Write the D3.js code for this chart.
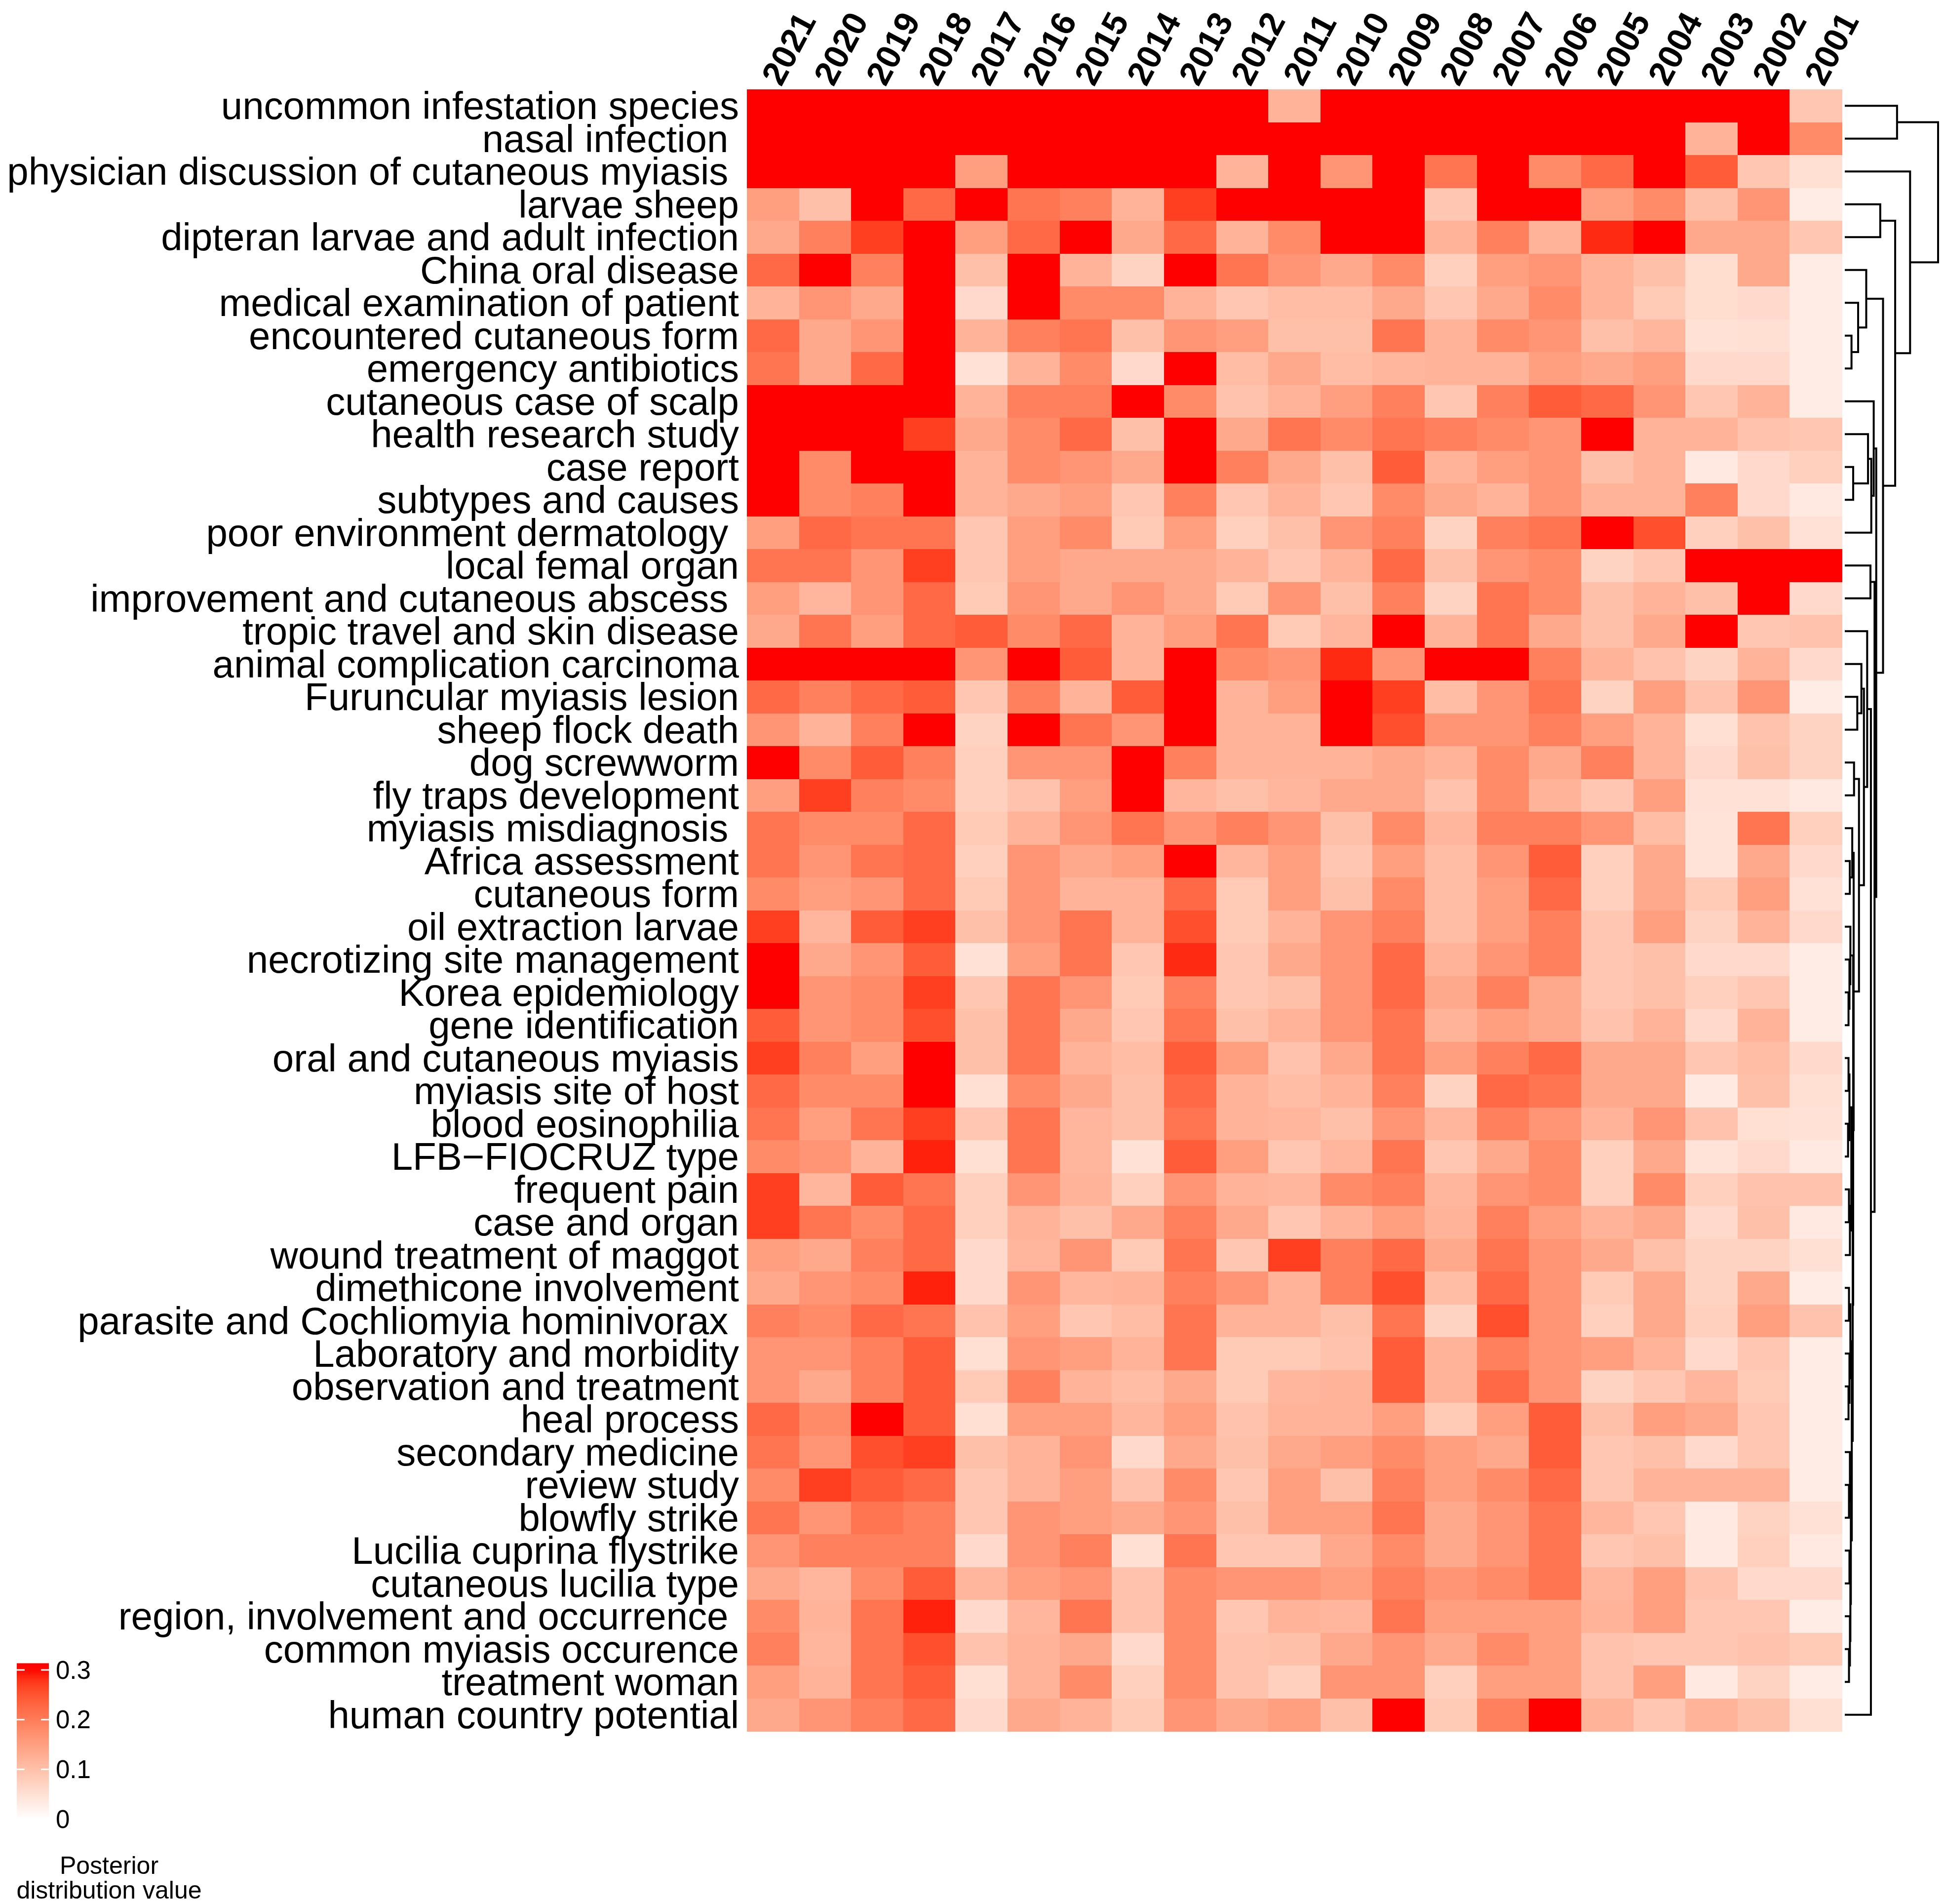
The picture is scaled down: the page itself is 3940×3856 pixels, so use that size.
<!DOCTYPE html>
<html>
<head>
<meta charset="utf-8">
<title>Posterior distribution heatmap</title>
<script src="https://d3js.org/d3.v7.min.js"></script>
<style>
  body { margin: 0; background: #fff; }
  text { font-family: "Liberation Sans", Arial, Helvetica, sans-serif; fill: #000; }
</style>
</head>
<body>
<div id="chart"></div>
<script>
// columns
var years = ["2021","2020","2019","2018","2017","2016","2015","2014","2013","2012","2011",
             "2010","2009","2008","2007","2006","2005","2004","2003","2002","2001"];

// rows (in dendrogram order, trailing spaces are part of the original labels)
var topics = [
  "uncommon infestation species",
  "nasal infection ",
  "physician discussion of cutaneous myiasis ",
  "larvae sheep",
  "dipteran larvae and adult infection",
  "China oral disease",
  "medical examination of patient",
  "encountered cutaneous form",
  "emergency antibiotics",
  "cutaneous case of scalp",
  "health research study",
  "case report",
  "subtypes and causes",
  "poor environment dermatology ",
  "local femal organ",
  "improvement and cutaneous abscess ",
  "tropic travel and skin disease",
  "animal complication carcinoma",
  "Furuncular myiasis lesion",
  "sheep flock death",
  "dog screwworm",
  "fly traps development",
  "myiasis misdiagnosis ",
  "Africa assessment",
  "cutaneous form",
  "oil extraction larvae",
  "necrotizing site management",
  "Korea epidemiology",
  "gene identification",
  "oral and cutaneous myiasis",
  "myiasis site of host",
  "blood eosinophilia",
  "LFB\u2212FIOCRUZ type",
  "frequent pain",
  "case and organ",
  "wound treatment of maggot",
  "dimethicone involvement",
  "parasite and Cochliomyia hominivorax ",
  "Laboratory and morbidity",
  "observation and treatment",
  "heal process",
  "secondary medicine",
  "review study",
  "blowfly strike",
  "Lucilia cuprina flystrike",
  "cutaneous lucilia type",
  "region, involvement and occurrence ",
  "common myiasis occurence",
  "treatment woman",
  "human country potential"
];

// posterior distribution value, one row per topic, columns 2021 -> 2001
var posterior = [
  [.33,.33,.33,.33,.33,.33,.33,.33,.33,.33,.12,.33,.33,.33,.33,.33,.33,.33,.33,.33,.09],
  [.33,.33,.33,.33,.33,.33,.33,.33,.33,.33,.33,.33,.33,.33,.33,.33,.33,.33,.12,.33,.18],
  [.33,.33,.33,.33,.15,.33,.33,.33,.33,.12,.33,.165,.33,.21,.33,.18,.225,.33,.24,.09,.05],
  [.15,.10,.33,.225,.33,.21,.195,.12,.27,.33,.33,.33,.33,.09,.33,.33,.15,.18,.10,.165,.03],
  [.135,.195,.27,.33,.15,.225,.33,.135,.225,.12,.18,.33,.33,.12,.195,.12,.285,.33,.135,.135,.09],
  [.225,.33,.195,.33,.10,.33,.12,.07,.33,.21,.165,.135,.18,.075,.15,.165,.12,.10,.055,.135,.03],
  [.12,.165,.135,.33,.06,.33,.18,.18,.12,.09,.105,.105,.135,.09,.135,.18,.12,.085,.055,.06,.03],
  [.225,.135,.165,.33,.12,.195,.21,.10,.165,.15,.10,.10,.21,.12,.18,.165,.10,.115,.048,.05,.03],
  [.21,.135,.225,.33,.048,.12,.18,.06,.33,.105,.135,.105,.115,.12,.12,.15,.135,.15,.06,.06,.03],
  [.33,.33,.33,.33,.12,.195,.195,.33,.18,.095,.12,.15,.195,.09,.195,.24,.225,.165,.09,.12,.03],
  [.33,.33,.33,.27,.135,.18,.225,.10,.33,.135,.21,.18,.21,.195,.18,.165,.33,.12,.12,.095,.09],
  [.33,.18,.33,.33,.12,.18,.165,.135,.33,.195,.135,.10,.24,.12,.15,.165,.10,.12,.035,.06,.075],
  [.33,.18,.195,.33,.12,.135,.15,.09,.195,.09,.12,.09,.18,.135,.12,.165,.12,.12,.195,.06,.035],
  [.15,.225,.21,.21,.09,.15,.18,.085,.15,.075,.10,.165,.195,.07,.195,.21,.33,.255,.075,.10,.048],
  [.21,.21,.165,.27,.09,.15,.135,.135,.135,.12,.09,.12,.225,.10,.165,.18,.07,.09,.33,.33,.33],
  [.15,.115,.165,.225,.085,.165,.135,.165,.135,.085,.165,.10,.195,.07,.21,.18,.10,.12,.10,.33,.06],
  [.135,.21,.15,.225,.24,.18,.225,.12,.15,.21,.085,.115,.33,.12,.21,.135,.10,.135,.33,.09,.095],
  [.33,.33,.33,.33,.165,.33,.24,.12,.33,.18,.165,.285,.165,.33,.33,.195,.12,.095,.07,.12,.06],
  [.225,.195,.225,.24,.09,.195,.12,.24,.33,.12,.15,.33,.27,.105,.165,.21,.07,.15,.095,.165,.03],
  [.165,.12,.195,.33,.07,.33,.21,.165,.33,.12,.12,.33,.255,.165,.165,.195,.15,.12,.05,.095,.07],
  [.33,.18,.24,.195,.075,.165,.165,.33,.195,.12,.12,.12,.135,.12,.18,.135,.195,.12,.06,.10,.07],
  [.15,.27,.195,.18,.075,.095,.15,.33,.115,.10,.115,.135,.135,.095,.18,.12,.09,.15,.048,.048,.035],
  [.21,.18,.18,.225,.085,.12,.165,.21,.165,.195,.165,.10,.18,.115,.195,.195,.165,.105,.045,.21,.075],
  [.21,.165,.21,.225,.075,.165,.135,.15,.33,.115,.15,.09,.15,.105,.165,.24,.075,.135,.045,.135,.06],
  [.18,.15,.165,.225,.085,.165,.12,.12,.225,.085,.15,.10,.18,.105,.15,.225,.075,.135,.085,.15,.048],
  [.27,.115,.24,.27,.10,.165,.21,.12,.255,.085,.12,.165,.195,.105,.15,.195,.09,.15,.07,.12,.06],
  [.33,.135,.165,.24,.048,.15,.21,.09,.285,.09,.135,.165,.225,.12,.165,.195,.09,.10,.06,.06,.03],
  [.33,.165,.18,.27,.09,.21,.165,.085,.195,.09,.10,.165,.225,.135,.195,.135,.09,.10,.075,.09,.03],
  [.24,.165,.18,.255,.10,.21,.135,.09,.21,.10,.12,.165,.21,.12,.15,.135,.095,.12,.06,.12,.03],
  [.27,.195,.15,.33,.10,.21,.12,.105,.24,.15,.095,.135,.21,.15,.195,.225,.135,.135,.09,.105,.06],
  [.225,.18,.18,.33,.05,.18,.135,.10,.225,.12,.105,.12,.195,.07,.225,.21,.135,.135,.035,.10,.05],
  [.21,.15,.21,.27,.09,.21,.115,.10,.21,.12,.115,.10,.165,.115,.195,.165,.12,.165,.095,.05,.048],
  [.18,.165,.12,.29,.05,.21,.115,.048,.24,.15,.09,.115,.21,.09,.135,.18,.075,.135,.045,.06,.035],
  [.27,.115,.24,.21,.075,.165,.12,.075,.165,.12,.115,.18,.195,.115,.165,.18,.075,.18,.075,.095,.095],
  [.27,.21,.18,.225,.075,.12,.10,.135,.195,.135,.09,.12,.15,.12,.195,.15,.12,.135,.06,.10,.035],
  [.15,.135,.195,.225,.06,.115,.165,.085,.21,.09,.27,.195,.225,.135,.21,.165,.135,.10,.07,.07,.05],
  [.135,.165,.18,.29,.06,.165,.115,.12,.195,.165,.12,.195,.255,.105,.225,.165,.085,.135,.07,.135,.03],
  [.195,.18,.225,.21,.095,.15,.09,.105,.21,.12,.12,.10,.21,.07,.255,.165,.075,.135,.075,.15,.095],
  [.165,.165,.195,.24,.05,.165,.15,.12,.21,.085,.085,.095,.24,.12,.195,.165,.15,.12,.06,.09,.03],
  [.165,.135,.195,.24,.085,.195,.12,.105,.135,.085,.115,.12,.24,.12,.225,.165,.07,.09,.115,.085,.03],
  [.225,.18,.33,.24,.05,.15,.15,.115,.15,.095,.12,.12,.15,.085,.15,.24,.10,.15,.135,.09,.03],
  [.21,.165,.255,.27,.10,.12,.165,.06,.135,.10,.135,.15,.18,.15,.135,.24,.09,.10,.06,.09,.03],
  [.18,.27,.24,.225,.09,.12,.15,.095,.18,.09,.15,.10,.195,.15,.18,.225,.09,.12,.12,.12,.03],
  [.21,.165,.21,.195,.09,.165,.15,.135,.165,.10,.15,.15,.21,.135,.165,.21,.115,.09,.035,.07,.048],
  [.165,.195,.195,.195,.06,.165,.195,.05,.21,.09,.09,.135,.18,.135,.165,.21,.09,.10,.035,.075,.035],
  [.135,.115,.18,.24,.115,.15,.165,.095,.18,.165,.165,.15,.195,.165,.18,.21,.115,.15,.095,.06,.06],
  [.18,.12,.21,.29,.06,.115,.21,.095,.18,.09,.12,.115,.21,.15,.15,.15,.12,.15,.09,.09,.03],
  [.195,.115,.21,.255,.095,.12,.135,.06,.18,.095,.10,.135,.165,.135,.18,.15,.095,.09,.09,.095,.085],
  [.15,.12,.21,.24,.05,.12,.18,.075,.18,.095,.075,.165,.165,.075,.15,.15,.095,.15,.035,.07,.03],
  [.135,.165,.195,.225,.06,.135,.12,.085,.165,.135,.15,.10,.33,.085,.195,.33,.12,.09,.12,.10,.05]
];

// legend
var legendTicks = [0, 0.1, 0.2, 0.3];
var legendTitle = ["Posterior", "distribution value"];

// row dendrogram: leaves are row indices, h = merge height (root = 1)
function N(h, a, b) { return {h: h, c: [a, b]}; }
var nI = N(0.072, 7, 8);
var nH = N(0.143, 6, nI);
var nF = N(0.23, 5, nH);
var nD = N(0.38, 3, 4);
var nM = N(0.09, 11, 12);
var nL = N(0.249, 10, nM);
var nLp = N(0.284, nL, 13);
var nJ = N(0.31, 9, nLp);
var nP = N(0.275, 14, 15);
var na = N(0.134, 18, 19);
var nY = N(0.178, 17, na);
var ne = N(0.099, 20, 21);
var nZ2a = N(0.08, 22, N(0.054, 23, 24));
var nK1 = N(0.06, 25, N(0.05, 26, N(0.04, 27, 28)));
var nK2a = N(0.07, N(0.05, N(0.04, 29, 30), N(0.035, 31, 32)), N(0.055, N(0.045, 33, 34), 35));
var nK2b1 = N(0.06, N(0.045, 36, 37), N(0.05, 38, N(0.04, 39, 40)));
var nK2b2 = N(0.065, N(0.055, 41, N(0.045, 42, 43)), N(0.06, N(0.05, 44, 45), N(0.055, 46, N(0.045, 47, 48))));
var nK2b = N(0.075, nK2b1, nK2b2);
var nK2 = N(0.085, nK2a, nK2b);
var nZ2b = N(0.09, nK1, nK2);
var nZ2 = N(0.095, nZ2a, nZ2b);
var nZ = N(0.152, ne, nZ2);
var nX = N(0.205, nY, nZ);
var nW = N(0.24, 16, nX);
var nR = N(0.28, nW, 49);
var nT = N(0.319, nP, nR);
var nG = N(0.337, nJ, nT);
var nE = N(0.41, nF, nG);
var nC = N(0.54, nD, nE);
var nB = N(0.70, 2, nC);
var nA = N(0.56, 0, 1);
var rowTree = N(1.0, nA, nB);

// ---- drawing ----
var W = 3940, H = 3856;
var svg = d3.select("#chart").append("svg")
  .attr("width", W)
  .attr("height", H)
  .style("display", "block");

var x = d3.scaleBand().domain(years).range([1513, 3731]);
var y = d3.scaleBand().domain(d3.range(topics.length)).range([181, 3506]);
var color = d3.scaleLinear().domain([0, 0.3]).range(["#ffffff", "#ff0000"])
  .interpolate(d3.interpolateLab).clamp(true);

// cells
var rows = svg.append("g").selectAll("g")
  .data(posterior)
  .join("g")
  .attr("transform", function(d, i) { return "translate(0," + y(i) + ")"; });

rows.selectAll("rect")
  .data(function(d) { return d; })
  .join("rect")
  .attr("x", function(d, j) { return x(years[j]); })
  .attr("y", 0)
  .attr("width", x.bandwidth() + 0.6)
  .attr("height", y.bandwidth() + 0.6)
  .attr("fill", function(d) { return color(d); })
  .attr("shape-rendering", "crispEdges");

// row labels
svg.append("g").selectAll("text")
  .data(topics)
  .join("text")
  .attr("x", 1497)
  .attr("y", function(d, i) { return y(i) + y.bandwidth() / 2; })
  .attr("text-anchor", "end")
  .attr("dominant-baseline", "central")
  .attr("xml:space", "preserve")
  .style("white-space", "pre")
  .attr("font-size", "78px")
  .text(function(d) { return d; });

// column labels (rotated)
svg.append("g").selectAll("text")
  .data(years)
  .join("text")
  .attr("transform", function(d) {
    return "translate(" + (x(d) + x.bandwidth() / 2 - 4) + ",166) rotate(-62)";
  })
  .attr("text-anchor", "start")
  .attr("dominant-baseline", "central")
  .attr("font-size", "69px")
  .attr("font-weight", "bold")
  .text(function(d) { return d; });

// dendrogram
var hx = d3.scaleLinear().domain([0, 1]).range([3737, 3926]);
var links = [];
function place(node) {
  if (typeof node === "number") {
    return {x: hx(0), y: y(node) + y.bandwidth() / 2};
  }
  var a = place(node.c[0]), b = place(node.c[1]);
  var xn = hx(node.h);
  links.push([[a.x, a.y], [xn, a.y], [xn, b.y], [b.x, b.y]]);
  return {x: xn, y: (a.y + b.y) / 2};
}
place(rowTree);

svg.append("g").selectAll("path")
  .data(links)
  .join("path")
  .attr("d", d3.line())
  .attr("fill", "none")
  .attr("stroke", "#000")
  .attr("stroke-width", 4);

// legend
var legTop = 0.3135;
var ly = d3.scaleLinear().domain([0, 0.3]).range([3684, 3382]);
var defs = svg.append("defs");
var grad = defs.append("linearGradient")
  .attr("id", "legGrad")
  .attr("x1", 0).attr("y1", 1).attr("x2", 0).attr("y2", 0);
grad.selectAll("stop")
  .data(d3.range(0, 1.0001, 0.05))
  .join("stop")
  .attr("offset", function(t) { return t; })
  .attr("stop-color", function(t) { return color(t * legTop); });

var leg = svg.append("g");
leg.append("rect")
  .attr("x", 34)
  .attr("y", ly(legTop))
  .attr("width", 65)
  .attr("height", ly(0) - ly(legTop))
  .attr("fill", "url(#legGrad)");

leg.selectAll("line.tl")
  .data(legendTicks)
  .join("line")
  .attr("class", "tl")
  .attr("x1", 34).attr("x2", 50)
  .attr("y1", function(d) { return ly(d); })
  .attr("y2", function(d) { return ly(d); })
  .attr("stroke", "#fff").attr("stroke-width", 3);
leg.selectAll("line.tr")
  .data(legendTicks)
  .join("line")
  .attr("class", "tr")
  .attr("x1", 83).attr("x2", 99)
  .attr("y1", function(d) { return ly(d); })
  .attr("y2", function(d) { return ly(d); })
  .attr("stroke", "#fff").attr("stroke-width", 3);

leg.selectAll("text.lab")
  .data(legendTicks)
  .join("text")
  .attr("class", "lab")
  .attr("x", 113)
  .attr("y", function(d) { return ly(d); })
  .attr("dominant-baseline", "central")
  .attr("font-size", "51px")
  .text(function(d) { return d === 0 ? "0" : d3.format(".1f")(d); });

leg.selectAll("text.title")
  .data(legendTitle)
  .join("text")
  .attr("class", "title")
  .attr("x", 221)
  .attr("y", function(d, i) { return 3778 + i * 50; })
  .attr("text-anchor", "middle")
  .attr("dominant-baseline", "central")
  .attr("font-size", "50px")
  .text(function(d) { return d; });
</script>
</body>
</html>
